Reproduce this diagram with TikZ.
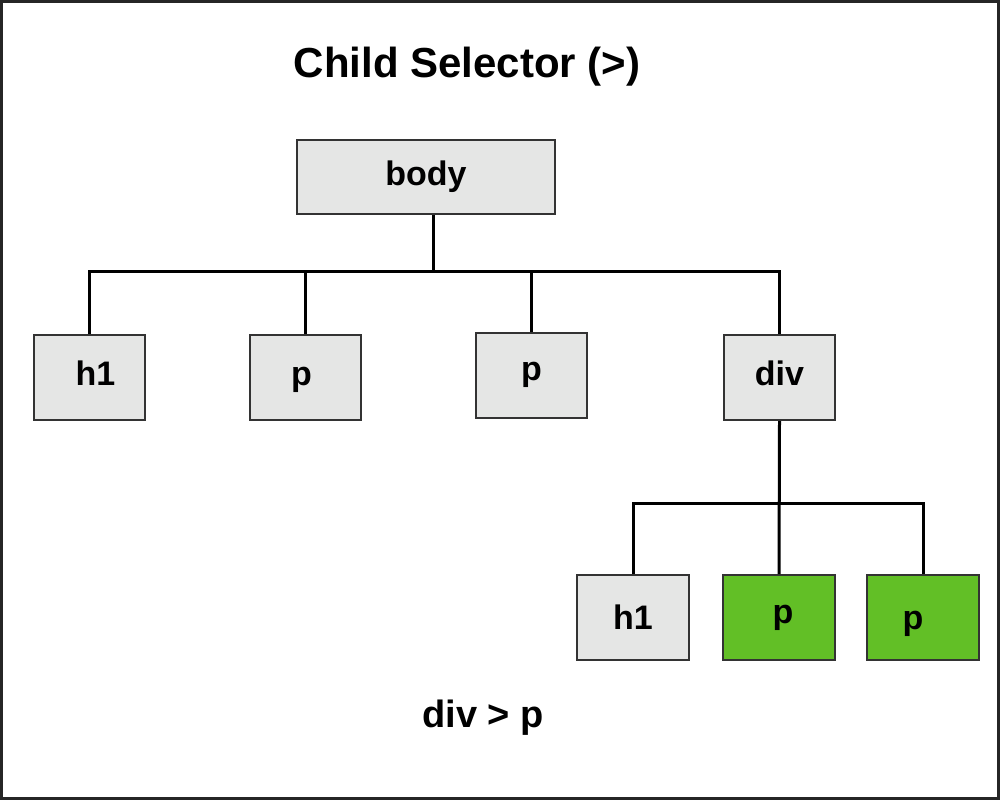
\documentclass[tikz,border=0pt]{standalone}
\usepackage{fontspec}
\setmainfont{Liberation Sans}
\begin{document}
\begin{tikzpicture}[x=1pt,y=-1pt,
  boxstyle/.style={draw=black!80, line width=2pt, fill=boxgray, rectangle, inner sep=0pt,
    text height=24pt, text depth=8pt,
    minimum width=111pt, minimum height=85pt, font=\fontsize{34}{40}\selectfont\bfseries},
  greenbox/.style={boxstyle, fill=boxgreen},
  wire/.style={draw=black, line width=3pt}]
\definecolor{boxgray}{HTML}{E5E6E5}
\definecolor{boxgreen}{HTML}{62BF26}
\useasboundingbox (0,0) rectangle (1000,800);
\draw[draw=black!85, line width=3pt] (1.5,1.5) rectangle (998.5,798.5);
\node[font=\fontsize{42}{48}\selectfont\bfseries] (title) at (467,67) {Child Selector (>)};
\node[boxstyle, minimum width=258pt, minimum height=74pt] (body) at (426,177) {body};
\node[boxstyle] (h1) at (89.5,377.5) {\kern12pt h1};
\node[boxstyle] (p1) at (305.5,377.5) {\kern-8pt p};
\node[boxstyle, text depth=14pt] (p2) at (531.5,375.5) {p};
\node[boxstyle] (div) at (779.5,377.5) {div};
\node[boxstyle, minimum width=112pt, text depth=1pt] (h1b) at (633,617.5) {h1};
\node[greenbox, minimum width=112pt, text depth=12pt] (pb1) at (779,617.5) {\kern8pt p};
\node[greenbox, minimum width=112pt, text depth=1pt] (pb2) at (923,617.5) {\kern-20pt p};
\node[font=\fontsize{38}{44}\selectfont\bfseries] (sel) at (483,718) {div > p};
\coordinate (bus1) at (433,271);
\coordinate (bus2) at (779,503);
\draw[wire] (body.south -| bus1) -- (bus1);
\draw[wire] (h1.north) |- (bus1) -| (div.north);
\draw[wire] (p1.north) -- (p1.north |- bus1);
\draw[wire] (p2.north) -- (p2.north |- bus1);
\draw[wire] (div.south) -- (pb1.north);
\draw[wire] (h1b.north) |- (bus2) -| (pb2.north);
\end{tikzpicture}
\end{document}
